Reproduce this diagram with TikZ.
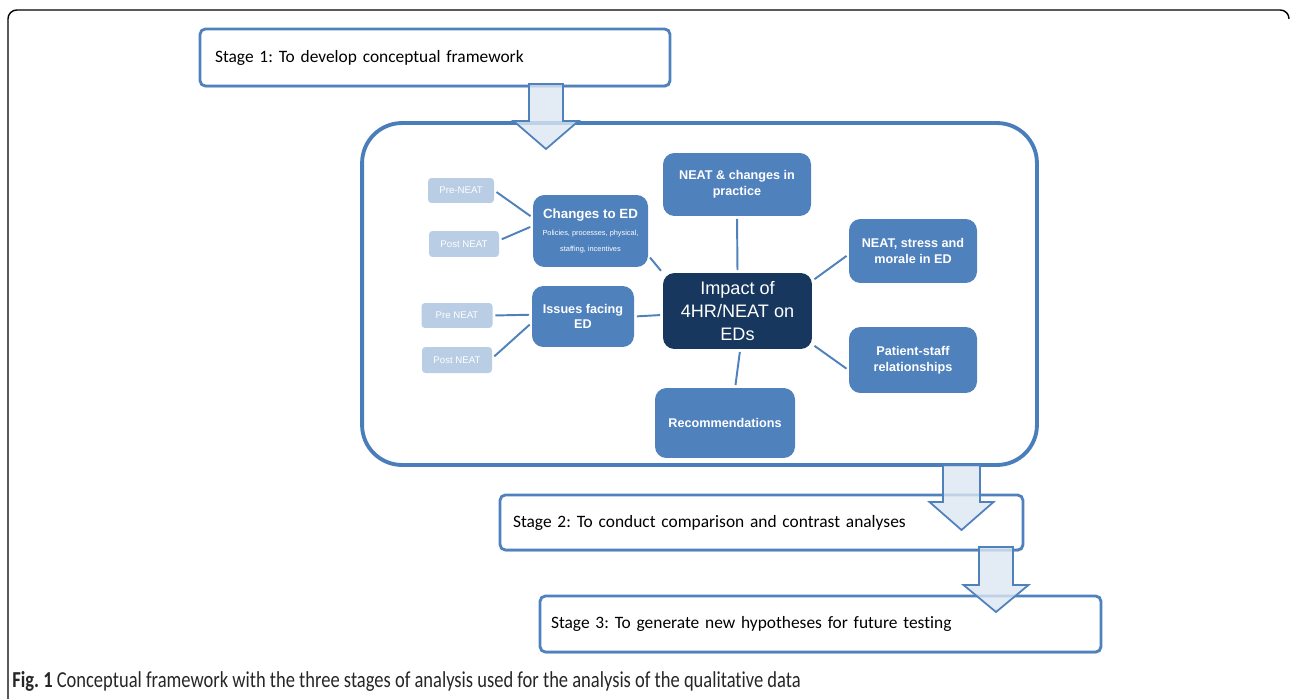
\documentclass[tikz,border=0pt]{standalone}
\usepackage{fontspec}
\setmainfont{Carlito}[Ligatures=NoCommon]
\newfontfamily\mapfont{Liberation Sans}
\newfontfamily\capfont{Carlito}[Ligatures=NoCommon, FakeStretch=0.81]
\usetikzlibrary{calc}
\usetikzlibrary{shadows}
\definecolor{MapBlue}{HTML}{4F81BD}
\definecolor{MapNavy}{HTML}{17375E}
\definecolor{MapPale}{HTML}{B9CDE5}
\definecolor{ArrowFill}{HTML}{DCE6F2}
\definecolor{FrameBlue}{HTML}{4A7EBB}
\tikzstyle{StageNode}=[rectangle, rounded corners=3pt, draw=MapBlue, line width=1.6pt, fill=white, inner xsep=0pt, align=left, font=\frenchspacing\fontsize{9.9}{12}\selectfont, drop shadow={shadow xshift=0.5pt, shadow yshift=-1pt, opacity=0.3}]
\tikzstyle{FrameNode}=[rectangle, rounded corners=0.8cm, draw=FrameBlue, line width=2.2pt, fill=white]
\tikzstyle{TopicNode}=[rectangle, rounded corners=6.5pt, fill=MapBlue, text=white, align=center, inner sep=1pt, font=\mapfont\bfseries\fontsize{7.2}{9}\selectfont]
\tikzstyle{CoreNode}=[TopicNode, fill=MapNavy, font=\mapfont\fontsize{10.3}{13.3}\selectfont]
\tikzstyle{LeafNode}=[rectangle, rounded corners=2pt, fill=MapPale, text=white, inner sep=1pt, font=\mapfont\fontsize{5.5}{6.5}\selectfont]
\tikzstyle{MapEdge}=[draw=MapBlue, line width=1.1pt, shorten >=1.5pt, shorten <=1.5pt]
\tikzstyle{ArrowEdge}=[draw=MapBlue, line width=1pt, fill=ArrowFill, fill opacity=0.8, line join=miter]
% block arrow: top centre, shaft half width, shaft length, head half width, head length
\newcommand{\StageArrow}[5]{\draw[ArrowEdge] (#1) ++(-#2,0) -- ++(0,#3) -- ++(#2-#4,0) -- ++(#4,#5) -- ++(#4,-#5) -- ++(#2-#4,0) -- ++(0,-#3) -- cycle;}

\begin{document}
\begin{tikzpicture}[x=0.02cm, y=-0.02cm]
\useasboundingbox (0,0) rectangle (1290,699);
\draw[line width=0.8pt, rounded corners=5pt] (8,700) -- (8,10) -- (1289,10) -- (1289,18);

% stages
\node[StageNode, text width=8.8cm, minimum height=1.14cm, inner xsep=0.3cm] (STAGE1) at (435,57.5) {Stage 1: To develop conceptual framework};
\node[StageNode, text width=9.94cm, minimum height=1.10cm, inner xsep=0.26cm] (STAGE2) at (761.5,522.5) {Stage 2: To conduct comparison and contrast analyses};
\node[StageNode, text width=10.78cm, minimum height=1.12cm, inner xsep=0.22cm] (STAGE3) at (820.5,624) {Stage 3: To generate new hypotheses for future testing};

% framework
\node[FrameNode, minimum width=13.5cm, minimum height=6.84cm] (FRAME) at (699.5,294) {};
\node[CoreNode, minimum width=2.98cm, minimum height=1.52cm] (CORE) at (737.5,311) {Impact of\\4HR/NEAT on\\EDs};
\node[TopicNode, minimum width=2.96cm, minimum height=1.26cm] (PRACT) at (737,184.5) {NEAT \& changes in\\practice};
\node[TopicNode, minimum width=2.3cm, minimum height=1.44cm] (CHANGES) at (590.5,231) {{\fontsize{7.6}{9}\selectfont Changes to ED}\\[1pt]{\mdseries\fontsize{4.2}{5}\selectfont Policies, processes, physical,}\\{\mdseries\fontsize{4.2}{5}\selectfont staffing, incentives}};
\node[TopicNode, minimum width=2.56cm, minimum height=1.28cm] (STRESS) at (913,251) {NEAT, stress and\\morale in ED};
\node[TopicNode, minimum width=2.04cm, minimum height=1.22cm] (ISSUES) at (583,316.5) {Issues facing\\ED};
\node[TopicNode, minimum width=2.56cm, minimum height=1.32cm] (PATIENT) at (913,360) {Patient-staff\\relationships};
\node[TopicNode, minimum width=2.8cm, minimum height=1.4cm] (RECS) at (725,423) {Recommendations};
\node[LeafNode, minimum width=1.32cm, minimum height=0.5cm] (PRE1) at (461,190.5) {Pre-NEAT};
\node[LeafNode, minimum width=1.4cm, minimum height=0.52cm] (POST1) at (464,244) {Post NEAT};
\node[LeafNode, minimum width=1.42cm, minimum height=0.5cm] (PRE2) at (457,315.5) {Pre NEAT};
\node[LeafNode, minimum width=1.4cm, minimum height=0.52cm] (POST2) at (457,360) {Post NEAT};

\draw[MapEdge] (PRE1.east) -- (CHANGES.167);
\draw[MapEdge] (POST1.6) -- (CHANGES.175);
\draw[MapEdge] (PRE2.east) -- (ISSUES.178);
\draw[MapEdge] (POST2.3) -- (ISSUES.187);
\draw[MapEdge] (CHANGES.-23) -- (CORE.153);
\draw[MapEdge] (ISSUES.east) -- (CORE.183);
\draw[MapEdge] (PRACT.south) -- (CORE.north);
\draw[MapEdge] (STRESS.183) -- (CORE.22);
\draw[MapEdge] (PATIENT.189) -- (CORE.-24);
\draw[MapEdge] (RECS.74) -- (CORE.-86);

% arrows between stages
\coordinate (ARR1) at (546,84);
\coordinate (ARR2) at (961.5,465);
\coordinate (ARR3) at (996,547);
\StageArrow{ARR1}{17}{37}{32.5}{28}
\StageArrow{ARR2}{18.5}{37}{32}{28}
\StageArrow{ARR3}{17}{38}{32.5}{27}

\node[anchor=west, inner sep=0pt, text=black!85, font=\capfont\frenchspacing\fontsize{13}{15}\selectfont] (CAPTION) at (12,681) {\textbf{Fig. 1} Conceptual framework with the three stages of analysis used for the analysis of the qualitative data};
\end{tikzpicture}
\end{document}
